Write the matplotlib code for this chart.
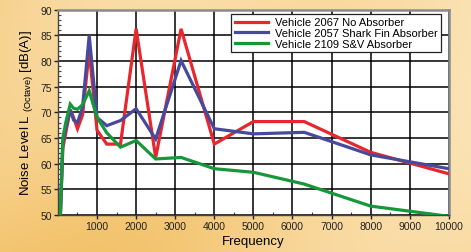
import numpy as np
import matplotlib
matplotlib.use('Agg')
import matplotlib.pyplot as plt
from matplotlib.ticker import MultipleLocator

plt.rcParams['font.family'] = ['Liberation Sans', 'DejaVu Sans']
plt.rcParams['mathtext.fontset'] = 'custom'
plt.rcParams['mathtext.rm'] = 'Liberation Sans'

# third-octave centre frequencies (Hz)
freq = [63, 125, 200, 315, 400, 500, 630, 800, 1000, 1250, 1600,
        2000, 2500, 3150, 4000, 5000, 6300, 8000, 10000]

no_absorber = [50, 63, 66, 70.5, 69, 66.8, 69.5, 82, 66.5, 63.8, 63.8,
               86.3, 61.2, 86.3, 63.8, 68.2, 68.2, 62.2, 58.0]
shark_fin = [50, 64, 67, 70.5, 68.5, 68, 71, 85, 69, 67.4, 68.4,
             70.7, 64.8, 80.1, 66.8, 65.8, 66.1, 61.7, 59.0]
sv_absorber = [50, 65, 68, 71.6, 70.8, 70.6, 71.5, 74.2, 69, 66, 63.2,
               64.5, 60.9, 61.2, 59.0, 58.3, 56.0, 51.7, 49.7]

labels = ['Vehicle 2067 No Absorber',
          'Vehicle 2057 Shark Fin Absorber',
          'Vehicle 2109 S&V Absorber']
colors = ['#e8262d', '#47499c', '#16983a']

fig = plt.figure(figsize=(4.71, 2.53), dpi=100)
fig.patch.set_facecolor('#f6cd84')

# soft orange background gradient
bg = fig.add_axes([0, 0, 1, 1], zorder=-10)
gx, gy = np.meshgrid(np.linspace(0, 1, 200), np.linspace(0, 1, 100))
grad = 0.5 * gx + 0.3 * (1 - gy) + 0.15 * np.sin(6 * gx + 3 * gy)
bg.imshow(grad, cmap=matplotlib.colors.LinearSegmentedColormap.from_list(
    'bgc', ['#f3c36c', '#f8d698', '#fbe3b4']), aspect='auto',
    extent=[0, 1, 0, 1], alpha=1)
bg.axis('off')

ax = fig.add_axes([0.123, 0.147, 0.83, 0.81])
ax.set_facecolor('white')

for vals, lab, c in zip([no_absorber, shark_fin, sv_absorber], labels, colors):
    ax.plot(freq, vals, color=c, lw=2.3, label=lab, solid_joinstyle='miter',
            zorder=3)

ax.set_xlim(0, 10000)
ax.set_ylim(50, 90)
ax.set_xticks(range(1000, 10001, 1000))
ax.xaxis.set_minor_locator(MultipleLocator(500))
ax.yaxis.set_major_locator(MultipleLocator(5))
ax.yaxis.set_minor_locator(MultipleLocator(1))
ax.grid(True, which='major', color='black', lw=1.1, zorder=1)
ax.tick_params(which='major', direction='out', length=3, width=1,
               labelsize=7.5, pad=1.5, colors='#222222')
ax.tick_params(which='minor', direction='in', length=2, width=0.8,
               colors='#444444')

for s in ['left', 'bottom']:
    ax.spines[s].set_color('#444444')
    ax.spines[s].set_linewidth(1.0)
for s in ['top', 'right']:
    ax.spines[s].set_color('#8a8a8a')
    ax.spines[s].set_linewidth(1.8)

ax.set_xlabel('Frequency', fontsize=9.5, labelpad=3)
ax.set_ylabel(r'Noise Level L $_{\mathrm{(Octave)}}$ [dB(A)]', fontsize=9.5,
              labelpad=4)

leg = ax.legend(loc='upper right', bbox_to_anchor=(0.985, 0.99), fontsize=8,
                frameon=True, fancybox=False, borderpad=0.3,
                labelspacing=0.05, handlelength=3.0, handletextpad=0.6,
                borderaxespad=0.2)
leg.get_frame().set_edgecolor('#222222')
leg.get_frame().set_linewidth(0.9)
leg.get_frame().set_alpha(1)

fig.savefig('out.png', dpi=100, facecolor=fig.get_facecolor())
